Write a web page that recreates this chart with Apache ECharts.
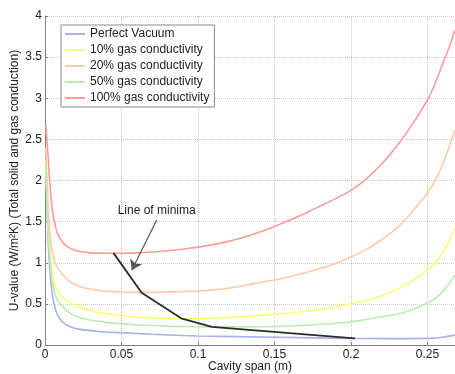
<!DOCTYPE html>
<html>
<head>
<meta charset="utf-8">
<script src="https://cdn.jsdelivr.net/npm/echarts@6/dist/echarts.min.js"></script>
<style>html,body{margin:0;padding:0;background:#fff}#c{width:455px;height:374px}</style>
</head>
<body>
<div id="c"></div>
<script>
const seriesNames = ['Perfect Vacuum', '10% gas conductivity', '20% gas conductivity', '50% gas conductivity', '100% gas conductivity'];

const vacuumX = [0.0005, 0.002, 0.003, 0.0045, 0.0065, 0.009, 0.012, 0.017, 0.023, 0.035, 0.049, 0.07, 0.1, 0.15, 0.2, 0.225, 0.25, 0.26, 0.268];
const vacuumY = [2.1, 1.3, 0.95, 0.65, 0.45, 0.34, 0.27, 0.22, 0.19, 0.165, 0.15, 0.13, 0.11, 0.094, 0.08, 0.078, 0.08, 0.095, 0.12];

const gas10X = [0.0005, 0.002, 0.003, 0.004, 0.0054, 0.008, 0.011, 0.015, 0.02, 0.027, 0.034, 0.045, 0.056, 0.07, 0.089, 0.1, 0.12, 0.14, 0.16, 0.18, 0.2, 0.21, 0.219, 0.229, 0.24, 0.25, 0.255, 0.261, 0.265, 0.268];
const gas10Y = [2.25, 1.5, 1.2, 0.97, 0.79, 0.67, 0.59, 0.53, 0.48, 0.43, 0.4, 0.37, 0.345, 0.33, 0.32, 0.322, 0.335, 0.36, 0.39, 0.43, 0.5, 0.54, 0.59, 0.67, 0.78, 0.91, 1.0, 1.15, 1.3, 1.42];

const gas20X = [0.0005, 0.002, 0.003, 0.0045, 0.006, 0.008, 0.011, 0.015, 0.02, 0.025, 0.033, 0.04, 0.05, 0.063, 0.075, 0.09, 0.1, 0.11, 0.12, 0.13, 0.14, 0.15, 0.16, 0.17, 0.18, 0.19, 0.2, 0.21, 0.22, 0.23, 0.24, 0.25, 0.255, 0.26, 0.265, 0.268];
const gas20Y = [2.4, 1.7, 1.4, 1.15, 1.03, 0.95, 0.87, 0.79, 0.73, 0.7, 0.67, 0.655, 0.645, 0.64, 0.642, 0.65, 0.655, 0.67, 0.69, 0.72, 0.76, 0.79, 0.83, 0.88, 0.93, 0.99, 1.07, 1.16, 1.28, 1.42, 1.62, 1.85, 2.0, 2.2, 2.45, 2.62];

const gas50X = [0.0005, 0.002, 0.003, 0.0045, 0.0065, 0.009, 0.013, 0.018, 0.023, 0.03, 0.04, 0.049, 0.06, 0.08, 0.1, 0.109, 0.13, 0.15, 0.17, 0.19, 0.2, 0.21, 0.219, 0.229, 0.24, 0.25, 0.256, 0.261, 0.265, 0.268];
const gas50Y = [2.2, 1.4, 1.1, 0.8, 0.62, 0.52, 0.44, 0.37, 0.33, 0.3, 0.275, 0.26, 0.245, 0.23, 0.222, 0.22, 0.22, 0.225, 0.24, 0.265, 0.28, 0.31, 0.34, 0.37, 0.43, 0.51, 0.58, 0.67, 0.77, 0.85];

const gas100X = [0.0005, 0.002, 0.003, 0.004, 0.005, 0.007, 0.009, 0.012, 0.015, 0.02, 0.025, 0.03, 0.04, 0.045, 0.05, 0.06, 0.07, 0.08, 0.09, 0.1, 0.11, 0.12, 0.13, 0.14, 0.15, 0.16, 0.17, 0.18, 0.19, 0.2, 0.21, 0.22, 0.23, 0.24, 0.25, 0.255, 0.26, 0.265, 0.268];
const gas100Y = [2.67, 2.3, 2.0, 1.78, 1.62, 1.43, 1.32, 1.24, 1.19, 1.15, 1.13, 1.12, 1.115, 1.115, 1.115, 1.12, 1.13, 1.145, 1.165, 1.19, 1.22, 1.26, 1.31, 1.37, 1.44, 1.52, 1.6, 1.69, 1.78, 1.88, 2.02, 2.2, 2.42, 2.68, 2.98, 3.18, 3.42, 3.66, 3.83];

const minimaX = [0.0447, 0.0632, 0.089, 0.109, 0.2026];
const minimaY = [1.12, 0.635, 0.324, 0.22, 0.08];

const annotationText = 'Line of minima';
const annotationPos = [0.073, 1.63];
const arrowFrom = [0.073, 1.52];
const arrowTo = [0.0567, 0.91];

const yTicks = ['0', '0.5', '1', '1.5', '2', '2.5', '3', '3.5', '4'];

const colors = ['#a9b1ea', '#ffff6e', '#ffcba6', '#b9eeae', '#ff9a9a'];
const xsList = [vacuumX, gas10X, gas20X, gas50X, gas100X];
const ysList = [vacuumY, gas10Y, gas20Y, gas50Y, gas100Y];

function pairs(xs, ys) { return xs.map((x, i) => [x, ys[i]]); }

const FONT = '"Liberation Sans", Arial, sans-serif';

const series = seriesNames.map((name, i) => ({
  name: name,
  type: 'line',
  data: pairs(xsList[i], ysList[i]),
  showSymbol: false,
  symbol: 'none',
  smooth: 0.25,
  lineStyle: { color: colors[i], width: 1.6 },
  itemStyle: { color: colors[i] },
  silent: true,
  z: 2
}));

series.push({
  name: 'minima',
  type: 'line',
  data: pairs(minimaX, minimaY),
  showSymbol: false,
  symbol: 'none',
  lineStyle: { color: '#2b2b2b', width: 1.8 },
  itemStyle: { color: '#2b2b2b' },
  silent: true,
  z: 4,
  markPoint: {
    silent: true,
    symbol: 'circle',
    symbolSize: 0,
    data: [{ coord: annotationPos, value: annotationText }],
    label: { show: true, position: 'inside', formatter: annotationText, color: '#222', fontSize: 12, fontFamily: FONT }
  }
});

series.push({
  name: 'arrow',
  type: 'lines',
  coordinateSystem: 'cartesian2d',
  silent: true,
  z: 5,
  symbol: ['none', 'arrow'],
  symbolSize: 10,
  lineStyle: { color: '#555', width: 1.2, opacity: 1 },
  data: [{ coords: [arrowFrom, arrowTo] }]
});

const chart = echarts.init(document.getElementById('c'), null, { renderer: 'canvas' });
chart.setOption({
  animation: false,
  backgroundColor: '#fff',
  grid: { left: 45, right: 0, top: 16, bottom: 29, containLabel: false, outerBoundsMode: 'none' },
  legend: {
    data: seriesNames,
    orient: 'vertical',
    left: 61,
    top: 25,
    padding: [3, 5, 3, 4],
    itemGap: 4,
    itemWidth: 20,
    itemHeight: 2,
    icon: 'rect',
    backgroundColor: '#fff',
    borderColor: '#8a8a8a',
    borderWidth: 1,
    textStyle: { fontSize: 12, lineHeight: 12, color: '#222', fontFamily: FONT, padding: [0, 0, 0, 0] },
    selectedMode: false
  },
  xAxis: {
    type: 'value',
    min: 0,
    max: 0.268,
    interval: 0.05,
    name: 'Cavity span (m)',
    nameLocation: 'middle',
    nameGap: 16,
    nameMoveOverlap: false,
    nameTextStyle: { fontSize: 12, color: '#222', fontFamily: FONT },
    axisLine: { show: true, lineStyle: { color: '#808080', width: 1 } },
    axisTick: { show: true, inside: true, length: 3, lineStyle: { color: '#808080' } },
    axisLabel: { fontSize: 12, color: '#222', fontFamily: FONT, margin: 4, showMaxLabel: false },
    splitLine: { show: true, lineStyle: { color: '#c8c8c8', type: 'dotted', width: 1 } }
  },
  yAxis: {
    type: 'value',
    min: 0,
    max: 4,
    interval: 0.5,
    name: 'U-value (W/m²K) (Total solid and gas conduction)',
    nameLocation: 'middle',
    nameGap: 24,
    nameMoveOverlap: false,
    nameTextStyle: { fontSize: 12, color: '#222', fontFamily: FONT },
    axisLine: { show: true, lineStyle: { color: '#808080', width: 1 } },
    axisTick: { show: true, inside: true, length: 3, lineStyle: { color: '#808080' } },
    axisLabel: {
      fontSize: 12, color: '#222', fontFamily: FONT, margin: 3,
      formatter: (v) => { const idx = Math.round(v / 0.5); return yTicks[idx] !== undefined ? yTicks[idx] : ''; }
    },
    splitLine: { show: true, lineStyle: { color: '#c8c8c8', type: 'dotted', width: 1 } }
  },
  series: series
});
</script>
</body>
</html>
